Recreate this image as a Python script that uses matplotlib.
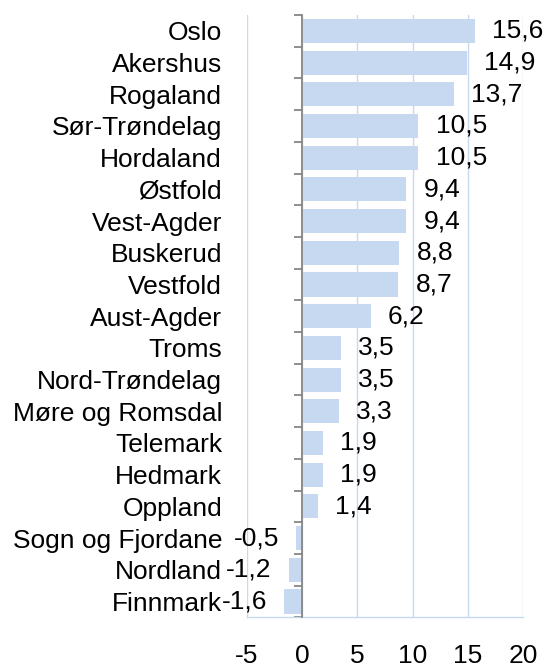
import matplotlib
matplotlib.use("Agg")
import matplotlib.pyplot as plt
from matplotlib.ticker import FixedLocator
import numpy as np

plt.rcParams['font.family'] = ['Liberation Sans', 'DejaVu Sans']

categories = ["Oslo", "Akershus", "Rogaland", "Sør-Trøndelag", "Hordaland", "Østfold",
              "Vest-Agder", "Buskerud", "Vestfold", "Aust-Agder", "Troms", "Nord-Trøndelag",
              "Møre og Romsdal", "Telemark", "Hedmark", "Oppland", "Sogn og Fjordane",
              "Nordland", "Finnmark"]
values = [15.6, 14.9, 13.7, 10.5, 10.5, 9.4, 9.4, 8.8, 8.7, 6.2, 3.5, 3.5, 3.3,
          1.9, 1.9, 1.4, -0.5, -1.2, -1.6]
xticks = [-5, 0, 5, 10, 15, 20]

BAR = "#C6D9F1"
GRID = "#C6D9F1"
AXIS = "#868686"
FS = 19

fig = plt.figure(figsize=(5.46, 6.67), dpi=100)
ax = fig.add_axes([0.4518, 0.0745, 0.9585 - 0.4518, 0.9775 - 0.0745])

y = np.arange(len(categories))
ax.barh(y, values, height=0.76, color=BAR, zorder=1)

ax.spines['left'].set_position(('data', 0))
ax.spines['left'].set_color(AXIS)
ax.spines['left'].set_linewidth(1.3)
ax.spines['left'].set_zorder(3)
ax.spines['top'].set_visible(False)
ax.spines['right'].set_visible(False)
ax.spines['bottom'].set_color(GRID)
ax.spines['bottom'].set_linewidth(1.0)

ax.set_xlim(xticks[0], xticks[-1])
ax.set_ylim(len(categories) - 0.5, -0.5)
ax.set_xticks(xticks)
ax.set_xticklabels([str(t) for t in xticks])
ax.set_yticks(y)
ax.set_yticklabels(categories)
ax.yaxis.set_minor_locator(FixedLocator(np.arange(len(categories) + 1) - 0.5))

ax.tick_params(axis='y', which='major', length=0, pad=57.6, labelsize=FS)
ax.tick_params(axis='y', which='minor', length=5.8, width=1.3, color=AXIS, direction='out')
ax.tick_params(axis='x', which='major', length=0, pad=19.5, labelsize=FS)

ax.set_axisbelow(True)
ax.grid(axis='x', color=GRID, linewidth=1.0)
ax.grid(axis='y', visible=False)

for i, v in enumerate(values):
    label = f"{v:.1f}".replace('.', ',')
    if v >= 0:
        ax.annotate(label, (v, i), xytext=(12.5, 0), textcoords='offset points',
                    ha='left', va='center', fontsize=FS, color='black')
    else:
        ax.annotate(label, (v, i), xytext=(-12.5, 0), textcoords='offset points',
                    ha='right', va='center', fontsize=FS, color='black')

fig.savefig("out.png", dpi=100)
